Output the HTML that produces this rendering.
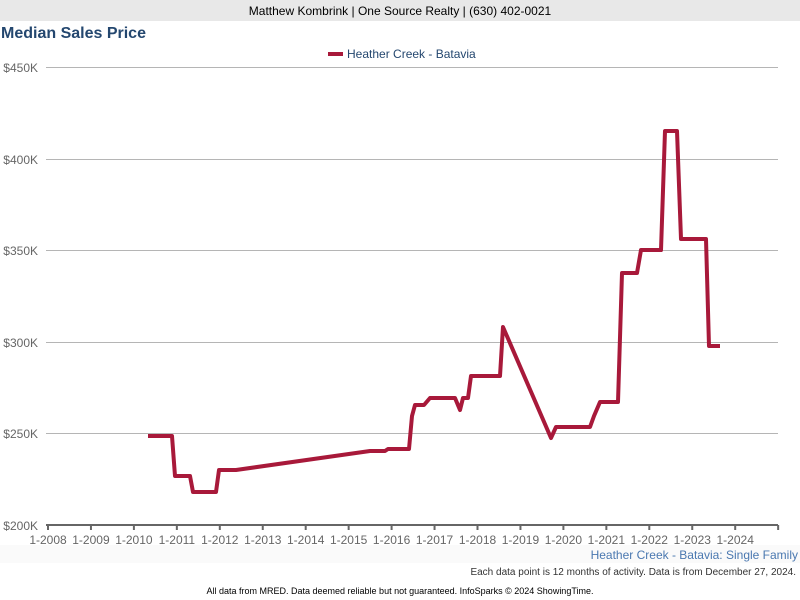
<!DOCTYPE html>
<html><head><meta charset="utf-8"><style>
body{margin:0;width:800px;height:600px;background:#fff;font-family:"Liberation Sans",Arial,sans-serif;overflow:hidden;position:relative}
.top{position:absolute;left:0;top:0;width:800px;height:21px;background:#e8e8e8;text-align:center;font-size:12px;line-height:22px;color:#000}
.t{position:absolute;left:1px;top:25px;font-size:16px;font-weight:bold;color:#24476f}
</style></head><body>
<div class="top">Matthew Kombrink | One Source Realty | (630) 402-0021</div>
<div class="t">Median Sales Price</div>
<svg width="800" height="600" style="position:absolute;left:0;top:0" font-family="Liberation Sans,Arial,sans-serif">
<rect x="0" y="545" width="800" height="18" fill="#fafafa"/>
<line x1="328" y1="54" x2="343" y2="54" stroke="#a8193a" stroke-width="4"/>
<text x="347" y="58" font-size="12" fill="#24476f">Heather Creek - Batavia</text>
<g stroke="#b5b5b5" stroke-width="1">
<line x1="46" y1="67.5" x2="778" y2="67.5"/><line x1="46" y1="159.5" x2="778" y2="159.5"/><line x1="46" y1="250.5" x2="778" y2="250.5"/><line x1="46" y1="342.5" x2="778" y2="342.5"/><line x1="46" y1="433.5" x2="778" y2="433.5"/>
</g>
<line x1="46" y1="525" x2="778" y2="525" stroke="#666" stroke-width="2"/>
<g stroke="#666" stroke-width="2" id="tk"></g>
<g font-size="12" fill="#666" text-anchor="end">
<text x="38" y="72">$450K</text><text x="38" y="164">$400K</text><text x="38" y="255">$350K</text><text x="38" y="347">$300K</text><text x="38" y="438">$250K</text><text x="38" y="530">$200K</text>
</g>
<g font-size="12" fill="#666" text-anchor="middle" id="xl"></g>
<polyline fill="none" stroke="#a8193a" stroke-width="4" stroke-linejoin="round" points="148,436 172,436 175,476 190,476 193,492 216,492 219,470 236,470 370,451 385,451 388,449 409,449 412,416 415,405 424,405 430,398 455,398 460,410 463,398 468,398 471,376 500,376 503,327 551,438 556,427 590,427 594,416 600,402 618,402 622,273 637,273 641,250 661,250 665,131 677,131 681,239 706,239 709,346 720,346"/>
<text x="798" y="559" font-size="12" fill="#4a78b0" text-anchor="end">Heather Creek - Batavia: Single Family</text>
<text x="796" y="575" font-size="10" fill="#333" text-anchor="end">Each data point is 12 months of activity. Data is from December 27, 2024.</text>
<text x="400" y="594" font-size="9" fill="#000" text-anchor="middle">All data from MRED. Data deemed reliable but not guaranteed. InfoSparks © 2024 ShowingTime.</text>
</svg>
<script>
var tk=document.getElementById('tk'),xl=document.getElementById('xl'),s='',l='';
for(var i=0;i<=17;i++){var x=48+i*42.95;if(x>779)break;s+='<line x1="'+x+'" y1="525" x2="'+x+'" y2="530"/>';if(i<=16)l+='<text x="'+x+'" y="544">1-'+(2008+i)+'</text>';}
tk.innerHTML=s;xl.innerHTML=l;
</script>
</body></html>
